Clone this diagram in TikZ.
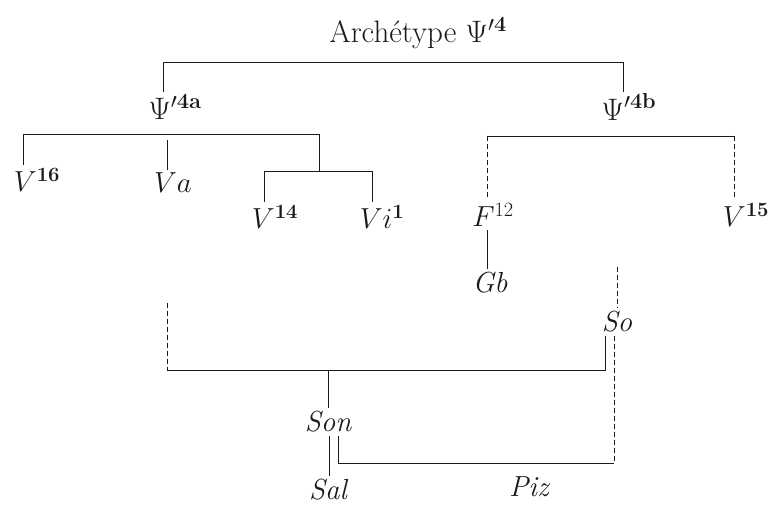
\RequirePackage{fix-cm}
\documentclass[tikz,border=0pt]{standalone}
\usepackage{amsmath}
\usepackage{amssymb}
\usepackage{tikz}
\usepackage{xcolor}
\usetikzlibrary{calc}
\definecolor{inkcolorc}{HTML}{1A1A1A}
\colorlet{inkcolor}{inkcolorc}
\newcommand{\psig}[1]{% manuscript group
$\Psi^{\prime\mathbf{#1}}$}
\tikzstyle{mytitle} =[
    text=inkcolor,
    font=\fontsize{31}{34}\selectfont,
    inner sep=2pt
    ]
\tikzstyle{mylabel} = [
    text=inkcolor,
    font=\fontsize{29}{32}\selectfont\itshape,
    inner sep=3pt
    ]
\tikzstyle{myline} = [
    draw=inkcolor,
    line width=0.9pt
    ]
\tikzstyle{mydash} = [
    myline,
    dash pattern=on 5pt off 3pt
    ]

\begin{document}
\begin{tikzpicture}[x=1pt,y=-1pt]
\useasboundingbox (0,0) rectangle (774,505);
% labels
\node[mytitle] (arch) at (418,33) {Archétype \psig{4}};
\node[mytitle] (psia) at (175,107) {\psig{4a}};
\node[mytitle] (psib) at (629,107) {\psig{4b}};
\node[mylabel] (vxvi) at (37,180) {$V^{\mathbf{16}}$};
\node[mylabel] (va) at (173,183) {$Va$};
\node[mylabel] (vxiv) at (275,217) {$V^{\mathbf{14}}$};
\node[mylabel] (vii) at (382,217) {$Vi^{\mathbf{1}}$};
\node[mylabel] (fxii) at (493,215) {$F^{12}$};
\node[mylabel] (vxv) at (746,215) {$V^{\mathbf{15}}$};
\node[mylabel] (gb) at (490,283) {Gb};
\node[mylabel] (so) at (617,322) {So};
\node[mylabel] (son) at (328,422) {Son};
\node[mylabel] (sal) at (328,490) {Sal};
\node[mylabel] (piz) at (529,487) {Piz};

% joints of the brackets
\coordinate (ta) at (163,62);
\coordinate (tb) at (623,62);
\coordinate (la) at (23,134);
\coordinate (lb) at (319,134);
\coordinate (vatop) at (167,140);
\coordinate (sa) at (264,171);
\coordinate (sb) at (372,171);
\coordinate (ra) at (487,136);
\coordinate (rb) at (734,136);
\coordinate (sotop) at (617,267);
\coordinate (ba) at (167,303);
\coordinate (bb) at (605,370);
\coordinate (pa) at (338,463);
\coordinate (pb) at (614,463);

% archetype
\draw[myline] (psia.north -| ta) -- (ta) -- (tb) -- (psib.north -| tb);
% family a
\draw[myline] (vxvi.north -| la) -- (la) -- (lb) -- (lb |- sa);
\draw[myline] (vatop) -- (va.north -| vatop);
\draw[myline] (vxiv.north -| sa) -- (sa) -- (sb) -- (vii.north -| sb);
% family b
\draw[myline] (ra) -- (rb);
\draw[mydash] (ra) -- (fxii.north -| ra);
\draw[mydash] (rb) -- (vxv.north -| rb);
\draw[myline] (fxii.south -| ra) -- (gb.north -| ra);
\draw[mydash] (sotop) -- (so.north);
% lower brackets
\draw[mydash] (ba) -- (ba |- bb);
\draw[myline] (ba |- bb) -- (bb) -- (so.south -| bb);
\draw[myline] (son.north |- bb) -- (son.north);
\draw[mydash] (so.south -| pb) -- (pb);
\draw[myline] (pb) -- (pa) -- (son.south -| pa);
\draw[myline] (son.south) ++(1,0) coordinate (sonb) (son.south -| sonb) -- (sal.north -| sonb);
\end{tikzpicture}
\end{document}
